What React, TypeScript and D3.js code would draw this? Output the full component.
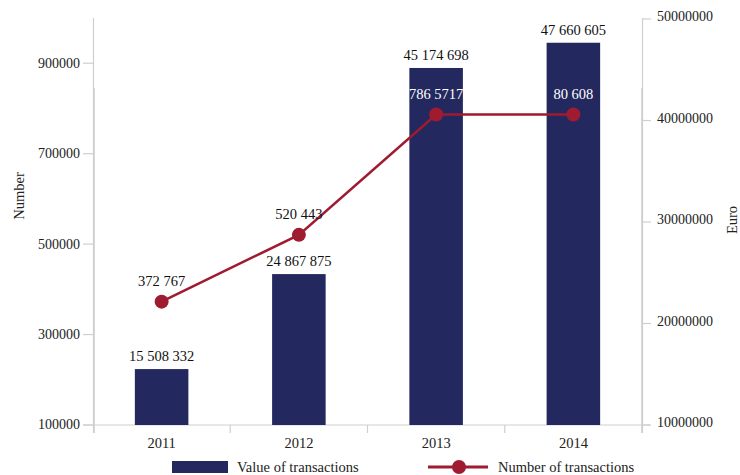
import React from "react";
import * as d3 from "d3";

const years = ["2011", "2012", "2013", "2014"];
const valueOfTransactions = [15508332, 24867875, 45174698, 47660605];
const numberOfTransactions = [372767, 520443, 786571, 786571];
const valueLabels = ["15 508 332", "24 867 875", "45 174 698", "47 660 605"];
const numberLabels = ["372 767", "520 443", "786 5717", "80 608"];
const leftTicks = [100000, 300000, 500000, 700000, 900000];
const rightTicks = [10000000, 20000000, 30000000, 40000000, 50000000];

const W = 740;
const H = 475;
const FONT = "'Liberation Serif', 'Times New Roman', serif";
const NAVY = "#23285e";
const RED = "#9e1b30";
const AXIS = "#cfcfcf";

export default function App() {
  const x = d3
    .scaleBand<string>()
    .domain(years)
    .range([93, 642])
    .paddingInner(0.61)
    .paddingOuter(0.305);
  const yL = d3.scaleLinear().domain([100000, 1000000]).range([425, 18]);
  const yR = d3.scaleLinear().domain([10000000, 50000000]).range([425, 19]);
  const base = 425;
  const step = x.step();
  const x0 = 93;

  const line = d3
    .line<number>()
    .x((_, i) => (x(years[i]) as number) + x.bandwidth() / 2)
    .y((d) => yL(d));

  const boundaries = d3.range(years.length + 1).map((i) => x0 + i * step);

  return (
    <svg
      width={W}
      height={H}
      style={{ position: "absolute", left: 0, top: 0, background: "#fff" }}
      fontFamily={FONT}
    >
      {/* axes */}
      <line x1={83} x2={650} y1={base} y2={base} stroke={AXIS} strokeWidth={1.2} />
      <line x1={93.5} x2={93.5} y1={18} y2={433} stroke={AXIS} strokeWidth={1.2} />
      <line x1={94} x2={94} y1={88} y2={433} stroke={AXIS} strokeWidth={1.6} />
      <line x1={642.5} x2={642.5} y1={18} y2={433} stroke={AXIS} strokeWidth={1.2} />
      <line x1={642} x2={642} y1={88} y2={433} stroke={AXIS} strokeWidth={1.6} />
      {boundaries.slice(1, -1).map((bx, i) => (
        <line key={"b" + i} x1={bx} x2={bx} y1={base} y2={433} stroke={AXIS} strokeWidth={1.2} />
      ))}
      {leftTicks.map((t) => (
        <g key={"l" + t}>
          <line x1={83} x2={93} y1={yL(t)} y2={yL(t)} stroke={AXIS} strokeWidth={1.2} />
          <text x={80} y={yL(t)} dy="0.32em" textAnchor="end" fontSize={14} fill="#222">
            {t}
          </text>
        </g>
      ))}
      {rightTicks.map((t) => (
        <g key={"r" + t}>
          <line x1={642} x2={651} y1={yR(t)} y2={yR(t)} stroke={AXIS} strokeWidth={1.2} />
          <text x={657} y={yR(t) - 2} dy="0.32em" textAnchor="start" fontSize={14} fill="#222">
            {t}
          </text>
        </g>
      ))}
      {years.map((yr) => (
        <text
          key={"y" + yr}
          x={(x(yr) as number) + x.bandwidth() / 2}
          y={448}
          textAnchor="middle"
          fontSize={14.5}
          fill="#222"
        >
          {yr}
        </text>
      ))}
      <text
        transform={`translate(24,196) rotate(-90)`}
        textAnchor="middle"
        fontSize={14.5}
        fill="#222"
      >
        Number
      </text>
      <text
        transform={`translate(737,220) rotate(-90)`}
        textAnchor="middle"
        fontSize={14.5}
        fill="#222"
      >
        Euro
      </text>

      {/* bars */}
      {years.map((yr, i) => (
        <rect
          key={"bar" + yr}
          x={x(yr)}
          y={yR(valueOfTransactions[i])}
          width={x.bandwidth()}
          height={base - yR(valueOfTransactions[i])}
          fill={NAVY}
        />
      ))}
      {years.map((yr, i) => (
        <text
          key={"vl" + yr}
          x={(x(yr) as number) + x.bandwidth() / 2}
          y={yR(valueOfTransactions[i]) - 8}
          textAnchor="middle"
          fontSize={14.5}
          fill="#111"
        >
          {valueLabels[i]}
        </text>
      ))}

      {/* line */}
      <path d={line(numberOfTransactions) || ""} fill="none" stroke={RED} strokeWidth={2.5} />
      {years.map((yr, i) => (
        <circle
          key={"c" + yr}
          cx={(x(yr) as number) + x.bandwidth() / 2}
          cy={yL(numberOfTransactions[i])}
          r={7}
          fill={RED}
        />
      ))}
      {years.map((yr, i) => {
        const ly = yL(numberOfTransactions[i]) - 16;
        const inside = ly > yR(valueOfTransactions[i]);
        return (
          <text
            key={"nl" + yr}
            x={(x(yr) as number) + x.bandwidth() / 2}
            y={ly}
            textAnchor="middle"
            fontSize={14.5}
            fill={inside ? "#ffffff" : "#111"}
          >
            {numberLabels[i]}
          </text>
        );
      })}

      {/* legend */}
      <rect x={172} y={461} width={56} height={12} fill={NAVY} />
      <text x={237} y={472} fontSize={14.5} fill="#222">
        Value of transactions
      </text>
      <line x1={428} x2={488} y1={467} y2={467} stroke={RED} strokeWidth={3} />
      <circle cx={459} cy={467} r={7} fill={RED} />
      <text x={498} y={472} fontSize={14.5} fill="#222">
        Number of transactions
      </text>
    </svg>
  );
}
